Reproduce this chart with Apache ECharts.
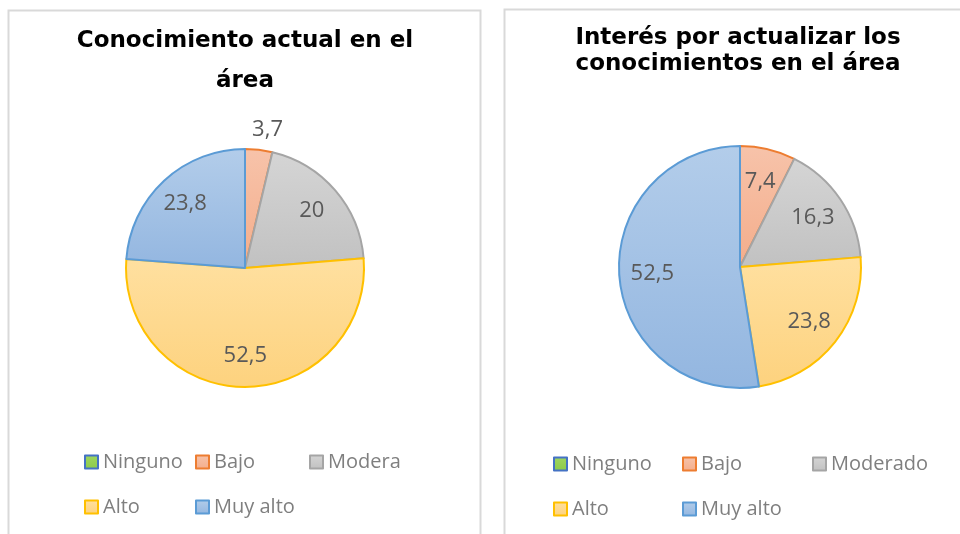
<!DOCTYPE html>
<html>
<head>
<meta charset="utf-8">
<title>Conocimiento e interés</title>
<script src="https://cdn.jsdelivr.net/npm/echarts@6/dist/echarts.min.js"></script>
<style>
  html, body { margin: 0; padding: 0; background: #fff; }
  #chart { width: 960px; height: 534px; }
</style>
</head>
<body>
<div id="chart"></div>
<script>
const categories = ["Ninguno", "Bajo", "Moderado", "Alto", "Muy alto"];
const conocimientoActual = [0, 3.7, 20, 52.5, 23.8];
const interesActualizar = [0, 7.4, 16.3, 23.8, 52.5];
const titleLeft = "Conocimiento actual en el\nárea";
const titleRight = "Interés por actualizar los\nconocimientos en el área";

// colores estilo Office: relleno degradado (arriba / abajo) y borde
const fillTop = ["#9fd65f", "#f7c3aa", "#d5d5d5", "#ffe0a0", "#b3cdea"];
const fillBottom = ["#8cca4a", "#f4ad8b", "#c1c1c1", "#fdd27e", "#93b6e0"];
const borders = ["#4472c4", "#ed7d31", "#a5a5a5", "#ffc000", "#5b9bd5"];

const labelFont = { color: "#595959", fontFamily: "Open Sans", fontSize: 22 };

const fmt = (v) => (v === 0 ? "" : String(v).replace(".", ","));

const sliceStyle = (i) => ({
  color: new echarts.graphic.LinearGradient(0, 0, 0, 1, [
    { offset: 0, color: fillTop[i] },
    { offset: 1, color: fillBottom[i] },
  ]),
  borderColor: borders[i],
  borderWidth: 2,
});

// pastel visible; outsideIdx = porción con etiqueta fuera (como el 3,7)
const pieSeries = (values, center, radius, outsideIdx) => ({
  type: "pie",
  center: center,
  radius: [0, radius],
  startAngle: 90,
  emphasis: { disabled: true },
  label: {
    show: false,
    position: "outside",
    distanceToLabelLine: -9,
    formatter: (p) => fmt(p.value),
    ...labelFont,
  },
  labelLine: { show: false, length: 20, length2: 0 },
  data: values.map((v, i) => ({
    name: categories[i],
    value: v,
    itemStyle: sliceStyle(i),
    label: { show: i === outsideIdx },
  })),
});

// serie transparente solo para poner las etiquetas hacia el borde
const labelSeries = (values, center, radius, skipIdx) => ({
  type: "pie",
  center: center,
  radius: [0, radius],
  startAngle: 90,
  silent: true,
  z: 5,
  emphasis: { disabled: true },
  itemStyle: { color: "rgba(0,0,0,0)", borderWidth: 0 },
  label: {
    show: true,
    position: "inside",
    formatter: (p) => fmt(p.value),
    ...labelFont,
  },
  labelLine: { show: false },
  data: values.map((v, i) => ({
    name: categories[i],
    value: v,
    label: { show: i !== skipIdx },
  })),
});

// una leyenda por elemento, en rejilla de 3 columnas como en Excel
const legendGrid = (cols, rows, rename) =>
  categories.map((name, i) => ({
    left: cols[i % 3],
    top: rows[Math.floor(i / 3)],
    padding: 0,
    icon: "rect",
    itemWidth: 13,
    itemHeight: 13,
    selectedMode: false,
    data: [name],
    formatter: rename || ((n) => n),
    textStyle: { color: "#7f7f7f", fontFamily: "Open Sans", fontSize: 20 },
  }));

const shortName = (name) => (name === "Moderado" ? "Modera" : name);

const myChart = echarts.init(document.getElementById("chart"));

myChart.setOption({
  backgroundColor: "#fff",
  animation: false,
  graphic: [
    {
      type: "rect",
      shape: { x: 8.5, y: 10.5, width: 472, height: 560 },
      style: { fill: "none", stroke: "#d9d9d9", lineWidth: 2 },
      z: -1,
    },
    {
      type: "rect",
      shape: { x: 504.5, y: 9.5, width: 480, height: 560 },
      style: { fill: "none", stroke: "#d9d9d9", lineWidth: 2 },
      z: -1,
    },
  ],
  title: [
    {
      text: titleLeft,
      left: 245,
      top: 21,
      textAlign: "center",
      padding: 0,
      textStyle: {
        fontFamily: "DejaVu Sans",
        fontWeight: "bold",
        fontSize: 23,
        lineHeight: 40,
        color: "#000",
      },
    },
    {
      text: titleRight,
      left: 738,
      top: 25,
      textAlign: "center",
      padding: 0,
      textStyle: {
        fontFamily: "DejaVu Sans",
        fontWeight: "bold",
        fontSize: 23,
        lineHeight: 26,
        color: "#000",
      },
    },
  ],
  legend: [
    ...legendGrid([84, 195, 309], [452, 497], shortName),
    ...legendGrid([553, 682, 812], [454, 499]),
  ],
  series: [
    pieSeries(conocimientoActual, [245, 268], 119, 1),
    pieSeries(interesActualizar, [740, 267], 121, -1),
    labelSeries(conocimientoActual, [245, 268], 170, 1),
    labelSeries(interesActualizar, [740, 267], 170, -1),
  ],
});
</script>
</body>
</html>
